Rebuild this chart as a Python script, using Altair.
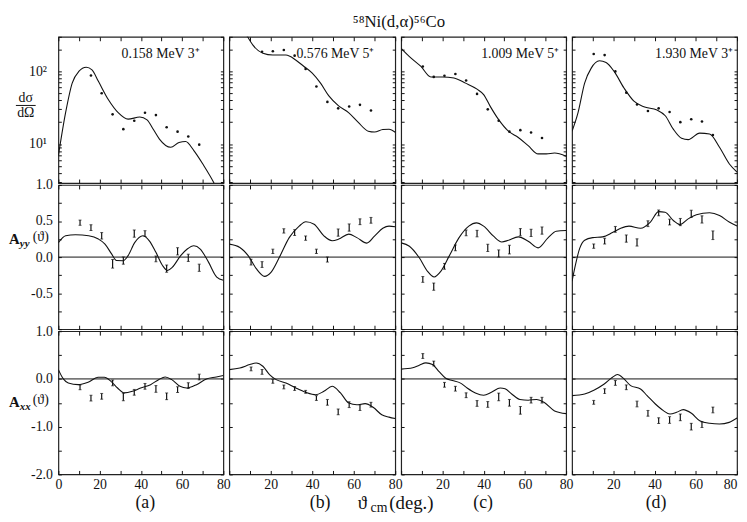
import altair as alt
import pandas as pd

FONT = "Liberation Serif"
INK = "#111111"

# ---------------- data ----------------
X_TICKS = [0, 10, 20, 30, 40, 50, 60, 70, 80]
PT_ANGLES = [10.5, 15.8, 21.0, 26.3, 31.5, 36.8, 42.0, 47.3, 52.5, 57.8, 63.0, 68.3]
PT_ANGLES_11 = [15.8, 21.0, 26.3, 31.5, 36.8, 42.0, 47.3, 52.5, 57.8, 63.0, 68.3]

LEVELS = ["0.158 MeV  3\u207a", "0.576 MeV  5\u207a", "1.009 MeV  5\u207a", "1.930 MeV  3\u207a"]
TAGS = ["(a)", "(b)", "(c)", "(d)"]

# Row 1: cross sections dσ/dΩ (log)
XS_CURVE_ANG_A = [0, 3.5, 6.7, 9.9, 13.5, 16.3, 19.4, 24.2, 29, 33.8, 39.5, 43, 46, 49, 54.5, 58.5, 61.7, 65.7, 70.4, 75.2, 80]
XS_CURVE_VAL_A = [6.9, 27, 69, 100, 114, 105, 73, 41, 27, 22, 23.5, 21.5, 16, 11.7, 9.0, 10.5, 10.8, 8.1, 5.1, 3.0, 1.6]
XS_CURVE_ANG_B = [4, 8, 11.4, 16.2, 21, 27.3, 32, 36, 40, 44, 48, 52.7, 57.5, 62.2, 67, 70, 74, 77, 80]
XS_CURVE_VAL_B = [520, 330, 230, 178, 168, 168, 144, 117, 95, 69, 46, 33.5, 27, 19.8, 15, 14.6, 15.8, 16, 14.5]
XS_CURVE_ANG_C = [0, 4, 9.6, 14.4, 20, 25.6, 31.2, 36.8, 40, 43.2, 47.2, 52, 56.8, 61.6, 66.4, 70.4, 74.4, 80]
XS_CURVE_VAL_C = [208, 160, 117, 84, 84, 81, 69, 57, 48, 33, 21.8, 15, 12.3, 9.5, 7.3, 7.3, 7.5, 6.8]
XS_CURVE_ANG_D = [0, 2.9, 6.1, 9.3, 13.3, 16.5, 20.4, 25.2, 30, 34.8, 41.2, 45.2, 49.1, 53.1, 56.3, 61.9, 66.7, 71.5, 76.3, 80]
XS_CURVE_VAL_D = [15, 27, 69, 111, 140, 133, 100, 59, 39, 32.6, 29.4, 24.5, 16, 12, 11.5, 14.1, 13.7, 9, 5.3, 4.1]

XS_PTS_A = [88, 50, 25.6, 16, 20.9, 27, 25, 17, 14.8, 12.7, 9.8]
XS_PTS_B = [187, 190, 197, 165, 108, 62, 38, 31, 32.8, 34.6, 29]
XS_PTS_C = [117, 84, 87, 92, 75, 49, 30, 20.9, 14.8, 15.5, 14.4, 12.1]
XS_PTS_D = [174, 168, 100, 51, 35, 28.5, 31, 27.6, 20, 21.9, 20.4, 13.3]

# Row 2: A_yy
AYY_CURVE_ANG_A = [0, 3.5, 8.3, 14.7, 19.4, 22.6, 25.8, 28.2, 31.4, 33.8, 37, 41, 44.1, 47.3, 50.5, 52.9, 55.3, 59.3, 62.5, 65.7, 68.8, 72.8, 76.8, 80]
AYY_CURVE_VAL_A = [0.20, 0.295, 0.31, 0.295, 0.25, 0.18, 0.044, -0.048, -0.05, 0.02, 0.20, 0.295, 0.226, 0.066, -0.116, -0.185, -0.14, 0.02, 0.112, 0.157, 0.112, -0.07, -0.277, -0.32]
AYY_CURVE_ANG_B = [0, 5.1, 9.1, 13, 17, 20.2, 24.2, 28.9, 33.7, 36.9, 40.9, 45.6, 49.6, 52.8, 57.6, 61.5, 66.3, 70, 74, 77, 80]
AYY_CURVE_VAL_B = [0.18, 0.134, 0.02, -0.16, -0.267, -0.208, 0, 0.27, 0.43, 0.49, 0.455, 0.295, 0.226, 0.25, 0.318, 0.27, 0.194, 0.29, 0.40, 0.43, 0.42]
AYY_CURVE_ANG_C = [0, 4, 8.8, 12.8, 16, 19.2, 23.2, 28, 32.8, 36.5, 40, 44.8, 48.8, 52, 56.8, 61.6, 66.4, 71.2, 75.2, 80]
AYY_CURVE_VAL_C = [0.197, 0.15, -0.01, -0.197, -0.275, -0.197, 0.01, 0.267, 0.43, 0.475, 0.43, 0.29, 0.21, 0.233, 0.28, 0.22, 0.128, 0.267, 0.358, 0.368]
AYY_CURVE_ANG_D = [0, 1.3, 3.7, 6.1, 10, 14.8, 19.6, 23.6, 27.6, 33.2, 38, 42, 45.1, 49.1, 52.3, 56.3, 60.3, 66.7, 71.5, 76.2, 80]
AYY_CURVE_VAL_D = [-0.335, -0.153, 0.12, 0.234, 0.27, 0.28, 0.34, 0.40, 0.43, 0.40, 0.486, 0.63, 0.623, 0.508, 0.45, 0.53, 0.586, 0.614, 0.577, 0.486, 0.43]

AYY_PTS_A = [0.477, 0.41, 0.295, -0.093, -0.048, 0.326, 0.326, -0.025, -0.16, 0.08, -0.01, -0.148]
AYY_ERR_A = [0.036, 0.04, 0.045, 0.06, 0.05, 0.05, 0.04, 0.04, 0.05, 0.05, 0.05, 0.05]
AYY_PTS_B = [-0.07, -0.103, 0.08, 0.363, 0.34, 0.263, 0.08, -0.034, 0.34, 0.41, 0.49, 0.51]
AYY_ERR_B = [0.04, 0.04, 0.03, 0.03, 0.04, 0.03, 0.03, 0.035, 0.05, 0.05, 0.04, 0.04]
AYY_PTS_C = [-0.31, -0.41, -0.128, 0.128, 0.336, 0.326, 0.128, 0.05, 0.104, 0.345, 0.336, 0.368]
AYY_ERR_C = [0.04, 0.05, 0.04, 0.04, 0.04, 0.045, 0.05, 0.05, 0.06, 0.05, 0.05, 0.05]
AYY_PTS_D = [0.152, 0.22, 0.385, 0.257, 0.203, 0.463, 0.613, 0.486, 0.486, 0.6, 0.522, 0.303]
AYY_ERR_D = [0.03, 0.04, 0.04, 0.05, 0.05, 0.04, 0.04, 0.04, 0.05, 0.05, 0.05, 0.06]

# Row 3: A_xx
AXX_CURVE_ANG_A = [0, 2.4, 4.8, 9.6, 14.4, 19.2, 22.3, 25.5, 28.7, 31.9, 35.9, 39.9, 44.7, 48.6, 51.8, 55, 59, 62.2, 67, 71.8, 76.6, 80]
AXX_CURVE_VAL_A = [0.195, 0, -0.084, -0.12, -0.07, 0.034, 0.034, -0.05, -0.19, -0.293, -0.26, -0.19, -0.12, -0.015, 0.04, -0.015, -0.155, -0.19, -0.12, 0, 0.04, 0.07]
AXX_CURVE_ANG_B = [0, 5.1, 9.9, 13, 16.2, 19.4, 22.6, 27.3, 32.1, 36.9, 41.7, 45.6, 49.6, 53.6, 57.6, 61.5, 65.5, 69.5, 73.5, 77, 80]
AXX_CURVE_VAL_B = [0.195, 0.23, 0.30, 0.335, 0.265, 0.09, -0.015, -0.084, -0.19, -0.28, -0.33, -0.26, -0.155, -0.293, -0.503, -0.54, -0.518, -0.6, -0.75, -0.8, -0.83]
AXX_CURVE_ANG_C = [0, 5.6, 8.8, 12, 15.2, 18.4, 21.6, 24.8, 28.8, 32, 36, 40, 44, 48, 50.4, 53.6, 57.6, 61.6, 65.6, 69.6, 74.4, 80]
AXX_CURVE_VAL_C = [0.206, 0.234, 0.288, 0.337, 0.302, 0.152, 0.014, -0.033, -0.088, -0.19, -0.294, -0.342, -0.274, -0.19, -0.205, -0.315, -0.43, -0.445, -0.43, -0.5, -0.67, -0.726]
AXX_CURVE_ANG_D = [0, 6.1, 10.8, 15.6, 19.6, 22, 25.2, 28.4, 33.2, 36.4, 40.4, 44.3, 47.5, 50.7, 53.9, 57.9, 61.9, 66.7, 71.5, 76.2, 80]
AXX_CURVE_VAL_D = [-0.35, -0.315, -0.23, -0.105, 0.035, 0.092, 0, -0.14, -0.21, -0.35, -0.525, -0.664, -0.735, -0.7, -0.643, -0.72, -0.874, -0.93, -0.945, -0.91, -0.82]

AXX_PTS_A = [-0.176, -0.4, -0.364, -0.084, -0.377, -0.28, -0.155, -0.21, -0.364, -0.224, -0.14, 0.04]
AXX_ERR_A = [0.05, 0.06, 0.06, 0.06, 0.08, 0.06, 0.06, 0.07, 0.07, 0.06, 0.06, 0.06]
AXX_PTS_B = [0.21, 0.147, -0.05, -0.168, -0.2, -0.27, -0.4, -0.49, -0.69, -0.54, -0.6, -0.54]
AXX_ERR_B = [0.04, 0.05, 0.04, 0.04, 0.04, 0.03, 0.05, 0.06, 0.06, 0.06, 0.06, 0.05]
AXX_PTS_C = [0.48, 0.323, -0.123, -0.205, -0.342, -0.514, -0.535, -0.377, -0.5, -0.658, -0.445, -0.445]
AXX_ERR_C = [0.05, 0.05, 0.05, 0.05, 0.05, 0.06, 0.06, 0.08, 0.07, 0.08, 0.06, 0.06]
AXX_PTS_D = [-0.49, -0.258, -0.084, -0.175, -0.525, -0.72, -0.874, -0.86, -0.805, -1.0, -0.958, -0.65]
AXX_ERR_D = [0.04, 0.05, 0.05, 0.05, 0.06, 0.06, 0.06, 0.07, 0.07, 0.07, 0.06, 0.06]

# ---------------- layout ----------------
WIDTHS = [167, 168, 167, 167]
HEIGHTS = [148, 146, 145]
LEVEL_X = [143, 147, 160, 163]
TAG_X = [88, 92, 83, 85]

ROW_Y_TICKS = [
    [3, 4, 5, 6, 7, 8, 9, 10, 20, 30, 40, 50, 60, 70, 80, 90, 100, 200, 300],
    [-1, -0.75, -0.5, -0.25, 0, 0.25, 0.5, 0.75, 1],
    [-2, -1.5, -1, -0.5, 0, 0.5, 1],
]
ROW_Y_LABELS = [
    [(10, "10\u00b9"), (100, "10\u00b2")],
    [(1, "1.0"), (0.5, "0.5"), (0, "0.0"), (-0.5, "-0.5")],
    [(1, "1.0"), (0, "0.0"), (-1, "-1.0"), (-2, "-2.0")],
]

CURVES = [
    [(XS_CURVE_ANG_A, XS_CURVE_VAL_A), (XS_CURVE_ANG_B, XS_CURVE_VAL_B), (XS_CURVE_ANG_C, XS_CURVE_VAL_C), (XS_CURVE_ANG_D, XS_CURVE_VAL_D)],
    [(AYY_CURVE_ANG_A, AYY_CURVE_VAL_A), (AYY_CURVE_ANG_B, AYY_CURVE_VAL_B), (AYY_CURVE_ANG_C, AYY_CURVE_VAL_C), (AYY_CURVE_ANG_D, AYY_CURVE_VAL_D)],
    [(AXX_CURVE_ANG_A, AXX_CURVE_VAL_A), (AXX_CURVE_ANG_B, AXX_CURVE_VAL_B), (AXX_CURVE_ANG_C, AXX_CURVE_VAL_C), (AXX_CURVE_ANG_D, AXX_CURVE_VAL_D)],
]
XS_POINTS = [(PT_ANGLES_11, XS_PTS_A), (PT_ANGLES_11, XS_PTS_B), (PT_ANGLES, XS_PTS_C), (PT_ANGLES, XS_PTS_D)]
ASYM_POINTS = [
    [(AYY_PTS_A, AYY_ERR_A), (AYY_PTS_B, AYY_ERR_B), (AYY_PTS_C, AYY_ERR_C), (AYY_PTS_D, AYY_ERR_D)],
    [(AXX_PTS_A, AXX_ERR_A), (AXX_PTS_B, AXX_ERR_B), (AXX_PTS_C, AXX_ERR_C), (AXX_PTS_D, AXX_ERR_D)],
]


def label_expr(pairs):
    s = ""
    for v, t in pairs:
        s += f"abs(datum.value - ({v})) < 1e-9 ? '{t}' : "
    return s + "''"


def text_layer(txt, x, y, size, align="left", weight="normal", style="normal"):
    return alt.Chart(pd.DataFrame({"t": [txt]})).mark_text(
        font=FONT, fontSize=size, align=align, baseline="middle",
        fontWeight=weight, fontStyle=style, color=INK,
    ).encode(x=alt.value(x), y=alt.value(y), text="t:N")


def panel(row, col):
    W, H = WIDTHS[col], HEIGHTS[row]
    xscale = alt.Scale(domain=[0, 80], nice=False, zero=False)
    if row == 0:
        yscale = alt.Scale(type="log", domain=[2.9, 300], nice=False)
    elif row == 1:
        yscale = alt.Scale(domain=[-1, 1], nice=False, zero=False)
    else:
        yscale = alt.Scale(domain=[-2, 1], nice=False, zero=False)

    bottom = row == 2
    if col == 0:
        xlab = "datum.value % 20 == 0 ? '' + datum.value : ''"
    else:
        xlab = "datum.value % 20 == 0 && datum.value > 0 ? '' + datum.value : ''"

    x_bottom = alt.Axis(orient="bottom", values=X_TICKS, tickSize=4, offset=-4, domain=False,
                        grid=False, tickColor=INK, labels=bottom, labelExpr=xlab, labelFont=FONT,
                        labelFontSize=14, labelColor=INK, labelPadding=3,
                        labelFlush=(col == 3), title=None)
    x_top = alt.Axis(orient="top", values=X_TICKS, tickSize=4, offset=-4, domain=False,
                     grid=False, tickColor=INK, labels=False, title=None)
    y_left = alt.Axis(orient="left", values=ROW_Y_TICKS[row], tickSize=3, offset=-3, domain=False,
                      grid=False, tickColor=INK, labels=(col == 0),
                      labelExpr=label_expr(ROW_Y_LABELS[row]), labelFont=FONT, labelFontSize=14,
                      labelColor=INK, labelPadding=(12 if row == 0 else 6), title=None)
    y_right = alt.Axis(orient="right", values=ROW_Y_TICKS[row], tickSize=3, offset=-3, domain=False,
                       grid=False, tickColor=INK, labels=False, title=None)

    cang, cval = CURVES[row][col]
    curve = alt.Chart(pd.DataFrame({"ang": cang, "val": cval})).mark_line(
        color=INK, strokeWidth=1.1, interpolate="monotone", clip=True
    ).encode(
        x=alt.X("ang:Q", scale=xscale, axis=x_bottom),
        y=alt.Y("val:Q", scale=yscale, axis=y_left),
    )
    layers = [curve]

    if row == 0:
        pang, pval = XS_POINTS[col]
        pts = alt.Chart(pd.DataFrame({"ang": pang, "val": pval})).mark_circle(
            color=INK, size=7, opacity=1
        ).encode(
            x=alt.X("ang:Q", scale=xscale, axis=x_top),
            y=alt.Y("val:Q", scale=yscale, axis=y_right),
        )
        layers.append(pts)
        layers.append(text_layer(LEVELS[col], LEVEL_X[col], 17, 14, align="right"))
    else:
        pval, perr = ASYM_POINTS[row - 1][col]
        df = pd.DataFrame({
            "ang": PT_ANGLES,
            "lo": [v - e for v, e in zip(pval, perr)],
            "hi": [v + e for v, e in zip(pval, perr)],
        })
        zero = alt.Chart(pd.DataFrame({"z": [0]})).mark_rule(color=INK, strokeWidth=1).encode(
            y=alt.Y("z:Q", scale=yscale, axis=None)
        )
        bars = alt.Chart(df).mark_rule(color=INK, strokeWidth=1.2).encode(
            x=alt.X("ang:Q", scale=xscale, axis=x_top),
            y=alt.Y("lo:Q", scale=yscale, axis=y_right),
            y2="hi:Q",
        )
        cap_lo = alt.Chart(df).mark_tick(color=INK, size=3, thickness=1, orient="horizontal").encode(
            x=alt.X("ang:Q", scale=xscale, axis=None),
            y=alt.Y("lo:Q", scale=yscale, axis=None),
        )
        cap_hi = alt.Chart(df).mark_tick(color=INK, size=3, thickness=1, orient="horizontal").encode(
            x=alt.X("ang:Q", scale=xscale, axis=None),
            y=alt.Y("hi:Q", scale=yscale, axis=None),
        )
        layers = [zero] + layers + [bars, cap_lo, cap_hi]

    # axis titles (left column)
    if col == 0:
        if row == 0:
            layers.append(text_layer("d\u03c3", -33, 62, 14, align="center"))
            layers.append(text_layer("d\u03a9", -33, 77, 14, align="center"))
            layers.append(alt.Chart(pd.DataFrame({"t": [0]})).mark_rule(color=INK, strokeWidth=1).encode(
                x=alt.value(-43), x2=alt.value(-23), y=alt.value(69.5)))
        elif row == 1:
            layers.append(text_layer("A", -50, 55, 15, weight="bold"))
            layers.append(text_layer("yy", -39, 60, 11, weight="bold", style="italic"))
            layers.append(text_layer("(\u03d1)", -26, 53, 14))
        else:
            layers.append(text_layer("A", -50, 72, 15, weight="bold"))
            layers.append(text_layer("xx", -39, 77, 11, weight="bold", style="italic"))
            layers.append(text_layer("(\u03d1)", -26, 70, 14))

    if bottom:
        layers.append(text_layer(TAGS[col], TAG_X[col], H + 29, 18, align="center"))
        if col == 1:
            layers.append(text_layer("\u03d1", 130, H + 29, 19))
            layers.append(text_layer("cm", 143, H + 34, 14))
            layers.append(text_layer("(deg.)", 162, H + 29, 19))

    return alt.layer(*layers).resolve_axis(x="independent", y="independent").properties(width=W, height=H)


panels = [panel(r, c) for r in range(3) for c in range(4)]

chart = alt.concat(
    *panels, columns=4, spacing={"row": 2, "column": 6}, bounds="flush",
).properties(
    title=alt.TitleParams("\u2075\u2078Ni(d,\u03b1)\u2075\u2076Co", font=FONT, fontSize=17,
                          fontWeight="normal", color=INK, anchor="middle", offset=5, dx=26),
    padding={"left": 0, "right": 0, "top": 1, "bottom": 2},
    background="white",
).configure_view(stroke="#222222", strokeWidth=1.2)

chart.save("out.html", embed_options={"renderer": "svg", "actions": False})
